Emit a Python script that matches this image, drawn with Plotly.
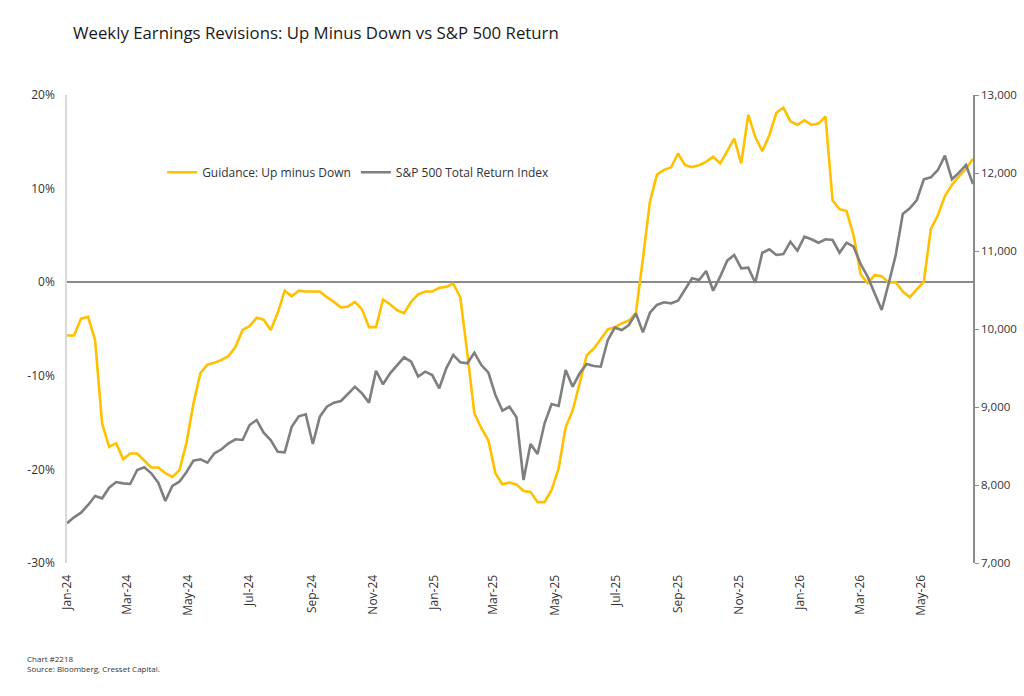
import pandas as pd
import plotly.graph_objects as go

# Weekly dates (130 weekly observations)
dates = pd.date_range("2024-01-05", periods=130, freq="7D")

# Guidance: Up minus Down (%), left axis
guidance = [
    -5.7, -5.7, -3.9, -3.7, -6.2, -15.1, -17.6, -17.2, -18.9, -18.3,
    -18.3, -19.1, -19.8, -19.8, -20.4, -20.8, -20.1, -17.2, -13.0, -9.7,
    -8.8, -8.6, -8.3, -7.9, -6.9, -5.1, -4.7, -3.8, -4.0, -5.1,
    -3.3, -0.9, -1.5, -0.9, -1.0, -1.0, -1.0, -1.6, -2.1, -2.7,
    -2.6, -2.1, -2.9, -4.8, -4.8, -1.85, -2.35, -3.0, -3.3, -2.1,
    -1.3, -1.0, -1.0, -0.6, -0.5, -0.15, -1.6, -7.6, -14.0, -15.6,
    -16.9, -20.4, -21.6, -21.4, -21.6, -22.3, -22.4, -23.5, -23.5, -22.2,
    -19.9, -15.5, -13.7, -10.8, -7.8, -7.1, -6.1, -5.05, -4.8, -4.4,
    -4.1, -3.3, 2.5, 8.6, 11.5, 12.0, 12.25, 13.75, 12.5, 12.3,
    12.5, 12.85, 13.4, 12.7, 14.0, 15.35, 12.7, 17.9, 15.5, 14.0,
    15.7, 18.1, 18.65, 17.2, 16.8, 17.3, 16.8, 16.95, 17.7, 8.75,
    7.8, 7.6, 5.0, 0.85, -0.1, 0.75, 0.65, -0.05, 0.0, -1.0,
    -1.6, -0.8, 0.05, 5.7, 7.15, 9.2, 10.4, 11.3, 12.1, 13.2,
]

# S&P 500 Total Return Index, right axis
spx = [
    7509, 7586, 7645, 7744, 7859, 7829, 7965, 8038, 8021, 8013,
    8192, 8227, 8150, 8030, 7795, 7987, 8042, 8163, 8312, 8329,
    8286, 8406, 8458, 8535, 8586, 8577, 8769, 8833, 8671, 8577,
    8427, 8419, 8747, 8880, 8906, 8526, 8876, 9004, 9056, 9077,
    9167, 9260, 9175, 9056, 9465, 9291, 9432, 9538, 9637, 9581,
    9389, 9453, 9410, 9240, 9496, 9667, 9573, 9560, 9696, 9538,
    9440, 9154, 8952, 9004, 8868, 8064, 8526, 8397, 8791, 9038,
    9013, 9474, 9260, 9432, 9551, 9526, 9517, 9859, 10017, 9987,
    10051, 10201, 9957, 10209, 10308, 10342, 10329, 10363, 10509, 10650,
    10628, 10744, 10491, 10671, 10876, 10949, 10778, 10786, 10593, 10978,
    11021, 10949, 10961, 11119, 11004, 11183, 11150, 11106, 11150, 11141,
    10978, 11106, 11055, 10833, 10671, 10458, 10244, 10586, 10949, 11474,
    11547, 11654, 11919, 11945, 12039, 12222, 11919, 12004, 12103, 11859,
]

# Left-axis tick values and labels (plain hyphen as in the original)
left_tick_vals = [-30, -20, -10, 0, 10, 20]
left_tick_text = ["-30%", "-20%", "-10%", "0%", "10%", "20%"]

title_text = "Weekly Earnings Revisions: Up Minus Down vs S&P 500 Return"
footnote = "Chart #2218<br>Source: Bloomberg, Cresset Capital."

YELLOW = "#FFC000"
GRAY = "#7F7F7F"
FONT = "Open Sans"

W, H = 1024, 696
ML, MR, MT, MB = 67, 51, 95, 133
PW, PH = W - ML - MR, H - MT - MB

fig = go.Figure()
fig.add_trace(go.Scatter(
    x=dates, y=guidance, name="Guidance: Up minus Down",
    mode="lines", line=dict(color=YELLOW, width=2.6), yaxis="y",
))
fig.add_trace(go.Scatter(
    x=dates, y=spx, name="S&P 500 Total Return Index",
    mode="lines", line=dict(color=GRAY, width=2.6), yaxis="y2",
))

fig.update_layout(
    width=W, height=H,
    margin=dict(l=ML, r=MR, t=MT, b=MB, autoexpand=False),
    paper_bgcolor="white", plot_bgcolor="white",
    font=dict(family=FONT, size=12, color="#333333"),
    title=dict(text=title_text, x=73 / W, xanchor="left", y=1 - 33 / H,
               yanchor="middle", font=dict(family=FONT, size=16.8, color="#1a1a1a")),
    showlegend=True,
    legend=dict(orientation="h", x=0.105, y=0.835, xanchor="left", yanchor="middle",
                bgcolor="rgba(0,0,0,0)", font=dict(family=FONT, size=12, color="#333333"),
                itemwidth=30, tracegroupgap=0),
    xaxis=dict(
        type="date", range=[dates[0], dates[-1]], automargin=False,
        tick0="2024-01-05", dtick="M2", tickformat="%b-%y",
        tickangle=-90, showgrid=False, showline=False, zeroline=False,
        ticks="outside", ticklen=6, tickcolor="rgba(0,0,0,0)",
        tickfont=dict(family=FONT, size=12, color="#333333"),
    ),
    yaxis=dict(
        range=[-30, 20], tickmode="array", tickvals=left_tick_vals, ticktext=left_tick_text,
        showgrid=False, automargin=False,
        showline=True, linecolor="#D9D9D9", linewidth=1.5,
        zeroline=True, zerolinecolor="#8C8C8C", zerolinewidth=1.5,
        ticks="", ticklabelstandoff=8,
        tickfont=dict(family=FONT, size=12, color="#333333"),
    ),
    yaxis2=dict(
        range=[7000, 13000], dtick=1000, tickformat=",", overlaying="y", side="right",
        showgrid=False, showline=True, linecolor="#8C8C8C", linewidth=1.5, automargin=False,
        zeroline=False, ticks="outside", ticklen=4, tickcolor="#8C8C8C",
        tickfont=dict(family=FONT, size=11.5, color="#333333"),
    ),
    annotations=[dict(
        text=footnote, xref="paper", yref="paper",
        x=(25 - ML) / PW, y=(PH - (663 - MT)) / PH, xanchor="left", yanchor="middle",
        showarrow=False, align="left",
        font=dict(family=FONT, size=8, color="#333333"),
    )],
)

# Remove the default page margin so the 1024x696 figure fills the window exactly.
fig.write_html("out.html", config={"displayModeBar": False},
               post_script="document.body.style.margin='0';")
